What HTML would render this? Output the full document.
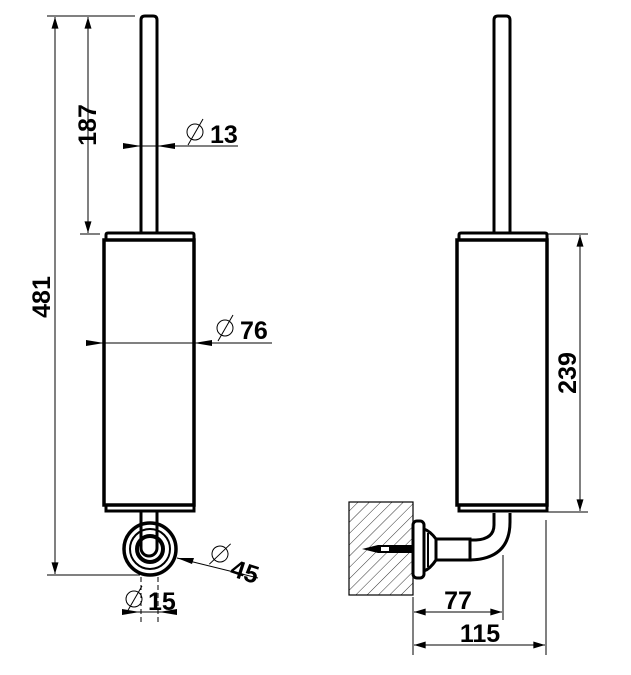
<!DOCTYPE html>
<html><head><meta charset="utf-8"><style>
html,body{margin:0;padding:0;background:#fff;}
svg{display:block}
text{font-family:"Liberation Sans",sans-serif;font-weight:bold;font-size:25px;fill:#000}
</style></head><body>
<svg width="631" height="675" viewBox="0 0 631 675" xmlns="http://www.w3.org/2000/svg">
<defs>
<marker id="a" viewBox="0 0 10 6" refX="10" refY="3" markerWidth="16" markerHeight="7" markerUnits="userSpaceOnUse" orient="auto-start-reverse"><path d="M0,0L10,3L0,6z" fill="#000"/></marker>
<pattern id="h" width="8" height="8" patternUnits="userSpaceOnUse" patternTransform="rotate(45)"><line x1="0" y1="0" x2="0" y2="8" stroke="#000" stroke-width="0.8"/></pattern>
</defs>
<g fill="none" stroke="#000">
<!-- LEFT VIEW -->
<path d="M141,233V20q0,-4 4,-4h8q4,0 4,4V233" stroke-width="3"/>
<path d="M106,240V235q0,-2 2,-2h84q2,0 2,2V240" stroke-width="3"/>
<line x1="106" y1="240" x2="194" y2="240" stroke-width="3"/>
<rect x="104" y="240" width="90" height="265" stroke-width="3.5"/>
<path d="M106,505V511h88V505" stroke-width="3"/>
<path d="M141,512V548a8,8 0 0 0 16,0V512" stroke-width="3"/>
<circle cx="150" cy="549" r="26" stroke-width="3.5"/>
<circle cx="150" cy="549" r="20" stroke-width="2"/>
<circle cx="150" cy="549" r="13" stroke-width="4"/>
<!-- 481 -->
<line x1="47" y1="16" x2="135" y2="16" stroke-width="1"/>
<line x1="47" y1="575" x2="140" y2="575" stroke-width="1"/>
<line x1="55" y1="17" x2="55" y2="574" stroke-width="1" marker-start="url(#a)" marker-end="url(#a)"/>
<!-- 187 -->
<line x1="88" y1="17" x2="88" y2="233" stroke-width="1" marker-start="url(#a)" marker-end="url(#a)"/>
<line x1="80" y1="234" x2="100" y2="234" stroke-width="1"/>
<!-- Ø13 -->
<line x1="123" y1="146" x2="238" y2="146" stroke-width="1"/>
<path d="M123,143L141,146L123,149z M175,143L157,146L175,149z" fill="#000" stroke="none"/>
<!-- Ø76 -->
<line x1="86" y1="343" x2="272" y2="343" stroke-width="1"/>
<path d="M86,340L104,343L86,346z M212,340L194,343L212,346z" fill="#000" stroke="none"/>
<!-- Ø45 -->
<line x1="177" y1="558" x2="258" y2="578" stroke-width="1"/>
<path d="M177,558L194,558L192,564z" fill="#000" stroke="none"/>
<!-- Ø15 -->
<line x1="122" y1="612" x2="177" y2="612" stroke-width="1"/>
<path d="M122,609L140,612L122,615z M177,609L159,612L177,615z" fill="#000" stroke="none"/>
<line x1="141" y1="577" x2="141" y2="622" stroke-width="1" stroke-dasharray="5,3"/>
<line x1="158" y1="577" x2="158" y2="622" stroke-width="1" stroke-dasharray="5,3"/>

<!-- RIGHT VIEW -->
<path d="M494,233V20q0,-4 4,-4h8q4,0 4,4V233" stroke-width="3"/>
<path d="M459,240V235q0,-2 2,-2h84q2,0 2,2V240" stroke-width="3"/>
<line x1="459" y1="240" x2="547" y2="240" stroke-width="3"/>
<rect x="457" y="240" width="90" height="265" stroke-width="3.5"/>
<path d="M459,505V511h88V505" stroke-width="3"/>
<path d="M494,513V525q0,14 -18,15H470 M510,513V522q0,37 -40,38" stroke-width="3"/>
<rect x="436" y="539" width="34" height="21" stroke-width="3"/>
<path d="M424,529Q430,531 436,539V560Q430,569 424,571" stroke-width="3"/>
<line x1="428" y1="533" x2="428" y2="567" stroke-width="2"/>
<rect x="413" y="521" width="11" height="57" rx="4" stroke-width="3"/>
<rect x="349" y="502" width="64" height="93" fill="url(#h)" stroke-width="1.2"/>
<path d="M362,549L378,545H412V553H378z" fill="#000" stroke="none"/>
<rect x="381" y="547" width="8" height="4" fill="#fff" stroke="none"/>
<!-- 239 -->
<line x1="548" y1="234" x2="588" y2="234" stroke-width="1"/>
<line x1="548" y1="512" x2="588" y2="512" stroke-width="1"/>
<line x1="580" y1="235" x2="580" y2="511" stroke-width="1" marker-start="url(#a)" marker-end="url(#a)"/>
<!-- 77 / 115 -->
<line x1="413" y1="597" x2="413" y2="655" stroke-width="1"/>
<line x1="503" y1="555" x2="503" y2="620" stroke-width="1"/>
<line x1="546" y1="520" x2="546" y2="655" stroke-width="1"/>
<line x1="414" y1="612" x2="502" y2="612" stroke-width="1" marker-start="url(#a)" marker-end="url(#a)"/>
<line x1="414" y1="645" x2="545" y2="645" stroke-width="1" marker-start="url(#a)" marker-end="url(#a)"/>
</g>
<g fill="none" stroke="#000" stroke-width="1">
<circle cx="195" cy="132" r="8"/><line x1="188" y1="145" x2="203" y2="119"/>
<circle cx="225" cy="328" r="8"/><line x1="218" y1="341" x2="233" y2="315"/>
<circle cx="134" cy="599" r="8"/><line x1="127" y1="612" x2="142" y2="586"/>
<g transform="rotate(18 220 554)"><circle cx="220" cy="554" r="8"/><line x1="213" y1="567" x2="227" y2="541"/></g>
</g>
<text x="210" y="143">13</text>
<text x="240" y="339">76</text>
<text x="148" y="610">15</text>
<text x="232" y="576" transform="rotate(18 232 566)">45</text>
<text transform="translate(96,125) rotate(-90)" text-anchor="middle">187</text>
<text transform="translate(50,297) rotate(-90)" text-anchor="middle">481</text>
<text transform="translate(576,373) rotate(-90)" text-anchor="middle">239</text>
<text x="458" y="609" text-anchor="middle">77</text>
<text x="480" y="642" text-anchor="middle">115</text>
</svg>
</body></html>
